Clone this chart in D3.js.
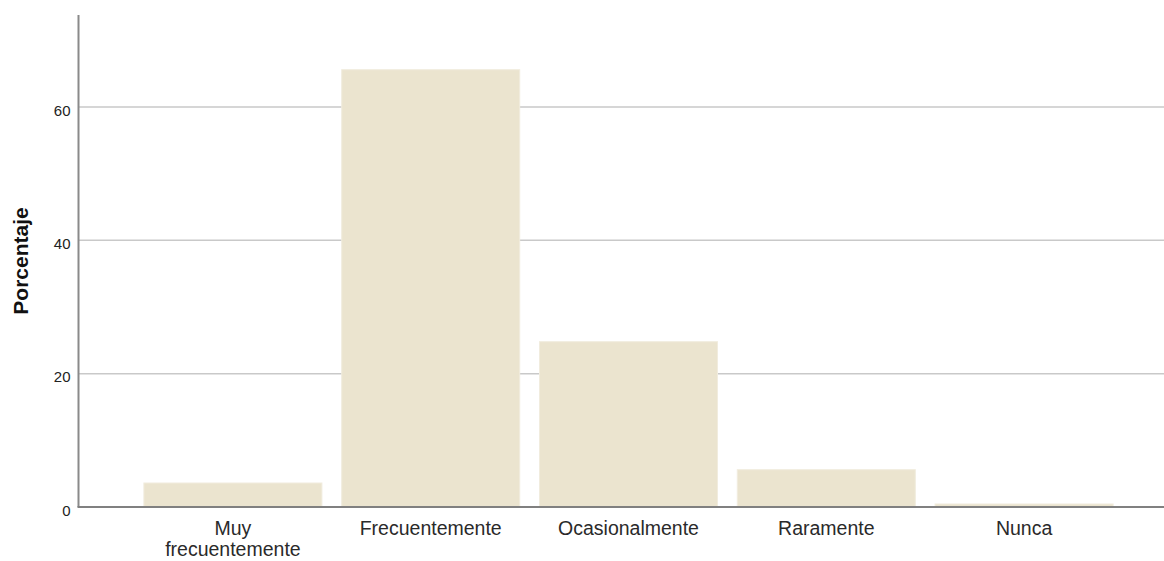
<!DOCTYPE html>
<html>
<head>
<meta charset="utf-8">
<script src="https://cdn.jsdelivr.net/npm/d3@7"></script>
<style>
    body { margin: 0; background: #fff; }
    svg { display: block; }
</style>
</head>
<body>
<div id="chart"></div>
<script>
// valores
const categories = ["Muy\nfrecuentemente", "Frecuentemente", "Ocasionalmente", "Raramente", "Nunca"];
const percentages = [3.6, 65.6, 24.8, 5.6, 0.45];
const yTicks = [0, 20, 40, 60];
const yTitle = "Porcentaje";

const width = 1164;
const height = 561;
const axisX = 78.5;
const baseY = 507;

const svg = d3.select("#chart")
    .append("svg")
    .attr("width", width)
    .attr("height", height);

const x = d3.scaleBand()
    .domain(categories)
    .range([134, 1123])
    .paddingInner(0.1)
    .paddingOuter(0.05);

const y = d3.scaleLinear()
    .domain([0, 73.8])
    .range([baseY, 15]);

// grid
svg.append("g")
    .selectAll("line")
    .data(yTicks.filter(d => d > 0))
    .enter()
    .append("line")
    .attr("x1", axisX)
    .attr("x2", width)
    .attr("y1", d => y(d))
    .attr("y2", d => y(d))
    .attr("stroke", "#c9c9c9")
    .attr("stroke-width", 1.5);

// bars
svg.append("g")
    .selectAll("rect")
    .data(percentages)
    .enter()
    .append("rect")
    .attr("x", (d, i) => x(categories[i]))
    .attr("y", d => y(d))
    .attr("width", x.bandwidth())
    .attr("height", d => baseY - y(d))
    .attr("fill", "#ebe4cf")
    .attr("stroke", "#f1ecde")
    .attr("stroke-width", 1);

// y axis
const yAxis = svg.append("g")
    .attr("transform", "translate(" + axisX + ",0)")
    .call(d3.axisLeft(y).tickValues(yTicks).tickSize(0).tickPadding(8).tickFormat(d3.format("d")));
yAxis.select(".domain")
    .attr("stroke", "#8a8a8a")
    .attr("stroke-width", 2)
    .attr("d", "M0," + y.range()[1] + "V" + baseY);
yAxis.selectAll("text")
    .attr("font-family", "'Liberation Sans', Arial, sans-serif")
    .attr("font-size", 15)
    .attr("fill", "#222")
    .attr("dy", "0.55em");

// x axis
svg.append("line")
    .attr("x1", axisX - 1)
    .attr("x2", width)
    .attr("y1", baseY)
    .attr("y2", baseY)
    .attr("stroke", "#808080")
    .attr("stroke-width", 2);

// etiquetas de categorias, una linea por texto
const xLabels = svg.append("g");
categories.forEach(d => {
    d.split("\n").forEach((line, i) => {
        xLabels.append("text")
            .attr("x", x(d) + x.bandwidth() / 2)
            .attr("y", 535 + i * 20.5)
            .attr("text-anchor", "middle")
            .attr("font-family", "'Liberation Sans', Arial, sans-serif")
            .attr("font-size", 19.5)
            .attr("fill", "#2a2a2a")
            .text(line);
    });
});

// titulo eje y
svg.append("text")
    .attr("transform", "translate(28,261) rotate(-90)")
    .attr("text-anchor", "middle")
    .attr("font-family", "'Liberation Sans', Arial, sans-serif")
    .attr("font-weight", "bold")
    .attr("font-size", 21)
    .attr("fill", "#111")
    .text(yTitle);
</script>
</body>
</html>
